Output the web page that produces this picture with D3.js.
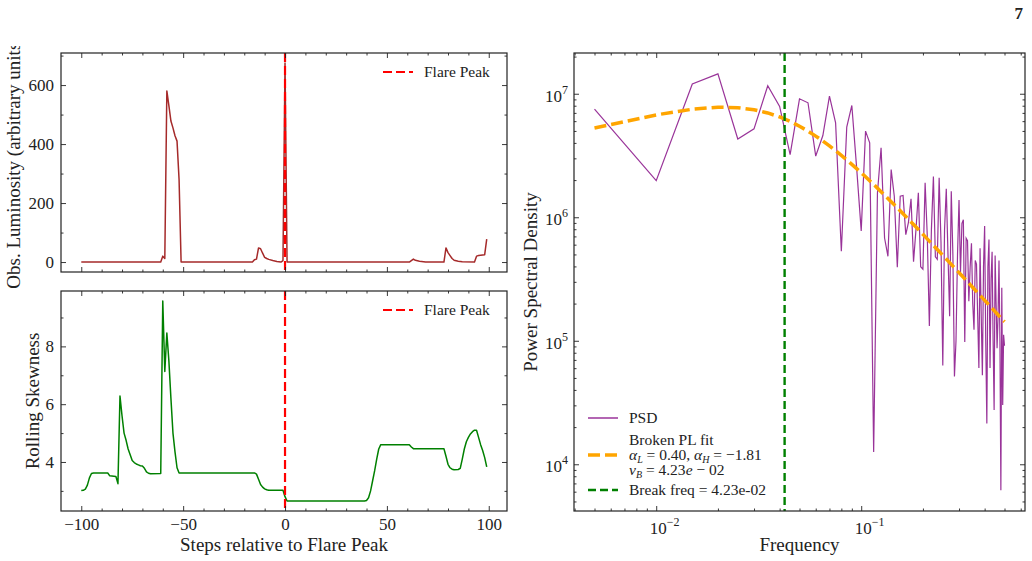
<!DOCTYPE html>
<html lang="en">
  <head>
    <meta charset="UTF-8" />
    <title>Flare peak, rolling skewness and PSD</title>
    <script src="https://d3js.org/d3.v7.min.js"></script>
    <style>
      body { margin: 0; background: #fff; }
      text { font-family: "Liberation Serif", "Times New Roman", serif; fill: #222; }
    </style>
  </head>
  <body>
    <svg width="1032" height="561"></svg>

    <script>
      // Luminosity around the flare (step, value)
      var lumSteps  = [-100, -61, -60, -59, -58, -57, -56, -55, -54, -53, -52, -51, -16, -15, -14, -13, -12, -11, -10, -9, -8, -6, -4, -2, -1, 0, 1, 61, 62, 63, 64, 66, 69, 78, 79, 80, 81, 82, 83, 85, 87, 93, 94, 95, 97, 98, 99];
      var lumValues = [0, 0, 20, 12, 580, 530, 478, 455, 428, 410, 280, 0, 0, 8, 10, 48, 45, 30, 16, 12, 9, 5, 2, 0, 5, 675, 0, 0, 5, 10, 6, 3, 0, 0, 48, 32, 22, 12, 6, 3, 1, 0, 20, 22, 24, 25, 78];

      // Rolling skewness (step, value)
      var skewSteps  = [-100, -99, -98, -97, -96, -95, -94, -87, -86, -83, -82, -81, -80, -79, -78, -77, -76, -75, -74, -73, -72, -71, -70, -69, -68, -67, -66, -61, -60, -59, -58, -57, -56, -55, -54, -53, -52, -15, -14, -13, -12, -11, -10, -9, -8, -1, 0, 1, 39, 40, 41, 42, 43, 44, 45, 46, 47, 61, 62, 63, 78, 79, 80, 81, 82, 83, 85, 86, 87, 88, 89, 90, 91, 92, 93, 94, 95, 96, 97, 98, 99];
      var skewValues = [3.01, 3.02, 3.06, 3.2, 3.45, 3.6, 3.62, 3.62, 3.52, 3.5, 3.25, 6.28, 5.6, 5.0, 4.75, 4.45, 4.25, 4.05, 3.98, 3.93, 3.9, 3.87, 3.86, 3.78, 3.66, 3.61, 3.59, 3.6, 9.57, 7.13, 8.46, 7.5, 6.2, 5.0, 4.35, 3.8, 3.62, 3.62, 3.58, 3.4, 3.22, 3.13, 3.07, 3.04, 3.02, 3.02, 2.8, 2.65, 2.65, 2.67, 2.76, 3.0, 3.35, 3.7, 4.1, 4.45, 4.6, 4.6, 4.52, 4.46, 4.46, 4.2, 3.92, 3.8, 3.75, 3.73, 3.74, 3.78, 4.1, 4.45, 4.7, 4.85, 4.97, 5.05, 5.1, 5.1, 4.85, 4.6, 4.4, 4.15, 3.83];

      // PSD at frequencies k / 200, k = 1..100
      var sampleCount = 200;
      var psdValues = [
        7.52e6, 1.98e6, 1.20e7, 1.45e7, 4.30e6, 5.20e6, 1.16e7, 7.89e6, 3.22e6, 9.10e6,
        8.45e6, 3.13e6, 4.59e6, 9.57e6, 5.82e6, 5.30e5, 5.37e6, 8.04e6, 2.51e6, 7.76e5,
        4.98e6, 4.01e6, 1.26e4, 1.57e6, 3.65e6, 6.79e5, 4.83e5, 2.43e6, 1.48e6, 3.94e5,
        1.48e6, 1.50e6, 7.23e5, 9.10e5, 1.41e6, 4.37e5, 7.94e5, 1.58e6, 3.98e5, 3.80e5,
        1.90e6, 7.08e5, 1.32e5, 7.94e5, 2.14e6, 4.79e5, 4.57e5, 2.09e6, 6.31e5, 6.31e4,
        7.94e5, 1.70e6, 5.01e5, 1.58e5, 1.62e6, 5.01e5, 5.13e4, 1.00e5, 5.01e5, 1.38e6,
        3.55e5, 8.91e5, 9.55e5, 9.77e4, 6.76e5, 6.46e5, 2.09e5, 3.98e5, 6.17e5, 2.00e5,
        1.23e5, 4.47e5, 4.17e5, 1.58e5, 6.03e4, 5.62e5, 1.58e5, 5.25e4, 3.98e5, 8.51e5,
        1.00e5, 2.14e4, 3.98e5, 6.61e5, 6.03e4, 3.16e5, 5.25e5, 1.00e5, 2.75e4, 4.90e5,
        2.00e5, 8.71e4, 1.58e5, 4.47e5, 1.00e5, 6.17e3, 2.69e5, 3.02e4, 1.12e5, 9.12e4
      ];
      var psdFreqs = psdValues.map(function (v, i) { return (i + 1) / sampleCount; });

      // broken power-law fit parameters (from the legend)
      var alphaL = 0.40, alphaH = -1.81, nuB = 4.23e-2, fitAmp = 1.25e7;
      var fitValues = psdFreqs.map(function (f) {
        var x = f / nuB;
        return fitAmp * Math.pow(x, alphaL) / (1 + Math.pow(x, alphaL - alphaH));
      });

      var flareStep = 0;

      var svg = d3.select("svg");
      var tickFont = 17, labelFont = 19, legendFont = 15.5;

      function pad(ext) { var r = ext[1] - ext[0]; return [ext[0] - 0.05 * r, ext[1] + 0.05 * r]; }
      function padLog(ext) {
        var a = Math.log10(ext[0]), b = Math.log10(ext[1]), r = b - a;
        return [Math.pow(10, a - 0.05 * r), Math.pow(10, b + 0.05 * r)];
      }

      // panel boxes
      var left = 61, right = 507;
      var lumBox = { x0: left, x1: right, y0: 53, y1: 272 };
      var skewBox = { x0: left, x1: right, y0: 291, y1: 511 };
      var psdBox = { x0: 574, x1: 1025, y0: 53, y1: 511 };

      var x = d3.scaleLinear().domain(pad(d3.extent(lumSteps))).range([left, right]);
      var yLum = d3.scaleLinear().domain(pad(d3.extent(lumValues))).range([lumBox.y1, lumBox.y0]);
      var ySkew = d3.scaleLinear().domain(pad(d3.extent(skewValues))).range([skewBox.y1, skewBox.y0]);
      var xF = d3.scaleLog().domain(padLog(d3.extent(psdFreqs))).range([psdBox.x0, psdBox.x1]);
      var yP = d3.scaleLog().domain(padLog(d3.extent(psdValues))).range([psdBox.y1, psdBox.y0]);

      // inward ticks on all four sides
      function ticks(box, xs, ys, xMajor, xMinor, yMajor, yMinor, xLabels, yLabels) {
        var g = svg.append("g");
        function put(axis, tr, vals, size, labels) {
          var a = axis.tickValues(vals).tickSizeInner(-size).tickSizeOuter(0).tickPadding(7);
          if (!labels) a.tickFormat("");
          var sel = g.append("g").attr("transform", tr).call(a);
          sel.select(".domain").remove();
          sel.selectAll("line").attr("stroke", "#222").attr("stroke-width", 0.9);
          sel.selectAll("text").attr("font-size", tickFont).attr("fill", "#222")
            .style("font-family", "'Liberation Serif', serif");
          return sel;
        }
        var out = {};
        out.bottom = put(d3.axisBottom(xs).tickFormat(xLabels === true ? null : xLabels), "translate(0," + box.y1 + ")", xMajor, 5, xLabels);
        put(d3.axisBottom(xs), "translate(0," + box.y1 + ")", xMinor, 2.5, false);
        put(d3.axisTop(xs), "translate(0," + box.y0 + ")", xMajor, 5, false);
        put(d3.axisTop(xs), "translate(0," + box.y0 + ")", xMinor, 2.5, false);
        out.left = put(d3.axisLeft(ys).tickFormat(yLabels === true ? null : yLabels), "translate(" + box.x0 + ",0)", yMajor, 5, yLabels);
        put(d3.axisLeft(ys), "translate(" + box.x0 + ",0)", yMinor, 2.5, false);
        put(d3.axisRight(ys), "translate(" + box.x1 + ",0)", yMajor, 5, false);
        put(d3.axisRight(ys), "translate(" + box.x1 + ",0)", yMinor, 2.5, false);
        g.append("rect").attr("x", box.x0).attr("y", box.y0)
          .attr("width", box.x1 - box.x0).attr("height", box.y1 - box.y0)
          .attr("fill", "none").attr("stroke", "#222").attr("stroke-width", 1.2);
        return out;
      }

      function clip(id, box) {
        svg.append("clipPath").attr("id", id).append("rect")
          .attr("x", box.x0).attr("y", box.y0).attr("width", box.x1 - box.x0).attr("height", box.y1 - box.y0);
        return "url(#" + id + ")";
      }

      var fmt = d3.format("d");
      var stepMajor = [-100, -50, 0, 50, 100];
      var stepMinor = d3.range(-100, 101, 10).filter(function (v) { return v % 50 !== 0; });

      // ---- top left: luminosity
      var lumLine = d3.line().x(function (d, i) { return x(lumSteps[i]); }).y(function (d) { return yLum(d); });
      var gl = svg.append("g").attr("clip-path", clip("cLum", lumBox));
      gl.append("path").attr("d", lumLine(lumValues)).attr("fill", "none")
        .attr("stroke", "#a52a2a").attr("stroke-width", 1.5).attr("stroke-linejoin", "round");
      gl.append("line").attr("x1", x(flareStep)).attr("x2", x(flareStep)).attr("y1", lumBox.y0).attr("y2", lumBox.y1)
        .attr("stroke", "red").attr("stroke-width", 2.2).attr("stroke-dasharray", "9,4");
      ticks(lumBox, x, yLum, stepMajor, stepMinor, [0, 200, 400, 600], [100, 300, 500, 700], false, fmt);

      // ---- bottom left: skewness
      var skewLine = d3.line().x(function (d, i) { return x(skewSteps[i]); }).y(function (d) { return ySkew(d); });
      var gs = svg.append("g").attr("clip-path", clip("cSkew", skewBox));
      gs.append("path").attr("d", skewLine(skewValues)).attr("fill", "none")
        .attr("stroke", "green").attr("stroke-width", 1.5).attr("stroke-linejoin", "round");
      gs.append("line").attr("x1", x(flareStep)).attr("x2", x(flareStep)).attr("y1", skewBox.y0).attr("y2", skewBox.y1)
        .attr("stroke", "red").attr("stroke-width", 2.2).attr("stroke-dasharray", "9,4");
      ticks(skewBox, x, ySkew, stepMajor, stepMinor, [4, 6, 8], [3, 5, 7, 9], fmt, fmt);

      // ---- right: PSD
      var gp = svg.append("g").attr("clip-path", clip("cPsd", psdBox));
      var psdLine = d3.line().x(function (d, i) { return xF(psdFreqs[i]); }).y(function (d) { return yP(d); });
      gp.append("path").attr("d", psdLine(psdValues)).attr("fill", "none")
        .attr("stroke", "purple").attr("stroke-opacity", 0.8).attr("stroke-width", 1.2);
      gp.append("path").attr("d", psdLine(fitValues)).attr("fill", "none")
        .attr("stroke", "orange").attr("stroke-width", 3.5).attr("stroke-dasharray", "12,5");
      gp.append("line").attr("x1", xF(nuB)).attr("x2", xF(nuB)).attr("y1", psdBox.y0).attr("y2", psdBox.y1)
        .attr("stroke", "green").attr("stroke-width", 2.4).attr("stroke-dasharray", "8,4");

      function minorLog(dom) {
        var out = [];
        for (var e = -4; e <= 9; e++) for (var m = 2; m <= 9; m++) {
          var v = m * Math.pow(10, e);
          if (v > dom[0] && v < dom[1]) out.push(v);
        }
        return out;
      }
      var fMajor = [1e-2, 1e-1], pMajor = [1e4, 1e5, 1e6, 1e7];
      var pa = ticks(psdBox, xF, yP, fMajor, minorLog(xF.domain()), pMajor, minorLog(yP.domain()), true, true);
      function powerLabel(sel) {
        sel.selectAll(".tick text").each(function (d) {
          var t = d3.select(this).text(null);
          var e = Math.round(Math.log10(d));
          t.append("tspan").text("10");
          t.append("tspan").attr("font-size", 12).attr("dy", -8).text(e < 0 ? "\u2212" + (-e) : e);
        });
      }
      powerLabel(pa.bottom);
      pa.bottom.selectAll(".tick text").attr("text-anchor", "middle").attr("dx", 8).attr("dy", "0.95em");
      powerLabel(pa.left);
      pa.left.selectAll(".tick text").attr("dy", "0.45em").attr("x", -6);

      // ---- axis labels (the luminosity label runs off the top of the figure, as in the original)
      svg.append("clipPath").attr("id", "cFig").append("rect").attr("x", 0).attr("y", 46).attr("width", 1032).attr("height", 515);
      function yLabel(txt, bx, cy, clipped) {
        var g = svg.append("g");
        if (clipped) g.attr("clip-path", "url(#cFig)");
        g.append("text").attr("transform", "translate(" + bx + "," + cy + ") rotate(-90)")
          .attr("text-anchor", "middle").attr("font-size", labelFont).text(txt);
      }
      yLabel("Obs. Luminosity (arbitrary units)", 20, (lumBox.y0 + lumBox.y1) / 2, true);
      yLabel("Rolling Skewness", 39, (skewBox.y0 + skewBox.y1) / 2);
      yLabel("Power Spectral Density", 537, (psdBox.y0 + psdBox.y1) / 2);
      svg.append("text").attr("x", (left + right) / 2).attr("y", 551).attr("text-anchor", "middle")
        .attr("font-size", labelFont).text("Steps relative to Flare Peak");
      svg.append("text").attr("x", (psdBox.x0 + psdBox.x1) / 2).attr("y", 551).attr("text-anchor", "middle")
        .attr("font-size", labelFont).text("Frequency");

      // ---- legends
      function legendLine(x0, y, color, width, dash) {
        svg.append("line").attr("x1", x0).attr("x2", x0 + 30).attr("y1", y).attr("y2", y)
          .attr("stroke", color).attr("stroke-width", width).attr("stroke-dasharray", dash || null);
      }
      function legendText(x0, y, parts) {
        var t = svg.append("text").attr("x", x0).attr("y", y).attr("font-size", legendFont);
        parts.forEach(function (p) {
          var s = t.append("tspan").text(p.t);
          if (p.i) s.attr("font-style", "italic");
          if (p.sub) s.attr("font-size", 10).attr("dy", 3);
          if (p.up) s.attr("dy", -3);
        });
      }
      [lumBox, skewBox].forEach(function (b) {
        legendLine(383, b.y0 + 19, "red", 2.2, "9,4");
        legendText(424, b.y0 + 24, [{ t: "Flare Peak" }]);
      });
      legendLine(588, 418, "purple", 1.2);
      legendText(629, 423, [{ t: "PSD" }]);
      legendLine(588, 455, "orange", 3.5, "12,5");
      legendText(629, 445, [{ t: "Broken PL fit" }]);
      legendText(629, 460, [{ t: "\u03b1", i: true }, { t: "L", i: true, sub: true }, { t: " = 0.40, ", up: true },
        { t: "\u03b1", i: true }, { t: "H", i: true, sub: true }, { t: " = \u22121.81", up: true }]);
      legendText(629, 475, [{ t: "\u03bd", i: true }, { t: "B", i: true, sub: true }, { t: " = 4.23", up: true },
        { t: "e", i: true }, { t: " \u2212 02" }]);
      legendLine(588, 490, "green", 2.4, "8,4");
      legendText(629, 495, [{ t: "Break freq = 4.23e-02" }]);

      // page number
      svg.append("text").attr("x", 1023).attr("y", 19).attr("text-anchor", "end")
        .attr("font-size", 17).attr("font-weight", "bold").text("7");
    </script>
  </body>
</html>
